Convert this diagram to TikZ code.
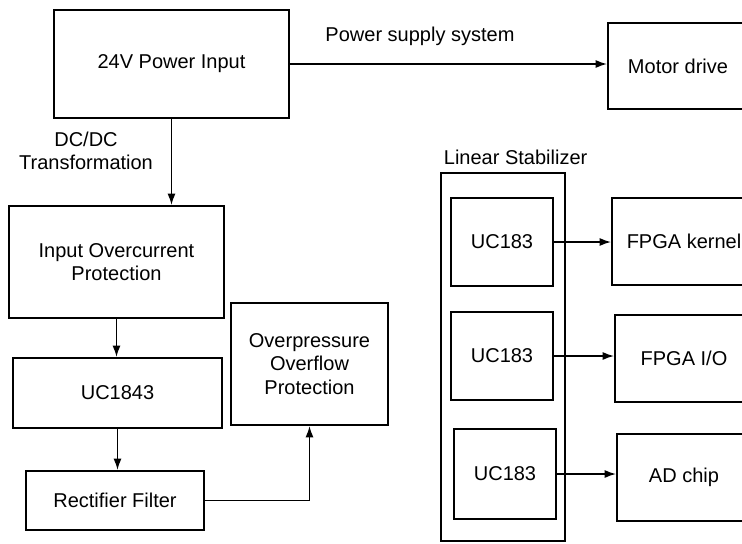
\documentclass[tikz,border=0pt]{standalone}
\usepackage{fontspec}
\setmainfont{Liberation Sans}
\usetikzlibrary{arrows.meta,positioning,calc}

\begin{document}
\begin{tikzpicture}[
  x=0.75pt, y=-0.75pt,
  block/.style={
    draw,
    line width=1.5pt,
    align=center,
    inner sep=0pt
  },
  flow/.style={-{Latex[length=8.5pt,width=6pt]}, line width=1.1pt},
  group/.style={draw, line width=1pt, inner sep=0pt},
  textlabel/.style={align=center, inner sep=1pt},
  font=\fontsize{15}{17.5}\selectfont
]
\useasboundingbox (0,0) rectangle (742,543);
\clip (0,0) rectangle (742,543);

% power input and motor branch
\node[block,minimum width=176.25pt,minimum height=81pt] (pwr) at (171.5,64) {24V Power Input};
\node[block,minimum width=105pt,minimum height=64.5pt] (motor) at (678,66) {Motor drive};
\draw[flow] (pwr.east) --
  node[textlabel,above=12pt,pos=0.41]{Power supply system}
  (pwr.east -| motor.west);

% dc/dc chain
\node[block,minimum width=161.25pt,minimum height=84pt] (ocp) at (116.5,262) {Input Overcurrent\\Protection};
\node[block,minimum width=156.75pt,minimum height=52.5pt] (pwm) at (117.5,393) {UC1843};
\node[block,minimum width=133.5pt,minimum height=44.25pt] (rect) at (115,500.5) {Rectifier Filter};
\node[block,minimum width=117.75pt,minimum height=91.5pt] (ovp) at (309.5,364) {Overpressure\\Overflow\\Protection};
\draw[flow] (pwr.south) -- (pwr.south |- ocp.north);
\node[textlabel] (dcdc) at (86,151) {DC/DC\\Transformation};
\draw[flow] (ocp.south) -- (ocp.south |- pwm.north);
\draw[flow] (pwm.south) -- (pwm.south |- rect.north);
\draw[flow] (rect.east) -| (ovp.south);

% linear stabilizer group
\node[group,minimum width=93pt,minimum height=276pt] (stab) at (503,357) {};
\node[textlabel,anchor=south west] (stablabel) at ($(stab.north west)+(2,-6)$) {Linear Stabilizer};
\node[block,minimum width=76.5pt,minimum height=66pt] (reg1) at (502,242) {UC183};
\node[block,minimum width=76.5pt,minimum height=66pt] (reg2) at (502,356) {UC183};
\node[block,minimum width=76.5pt,minimum height=67.5pt] (reg3) at (505,474) {UC183};
\node[block,minimum width=108pt,minimum height=65.25pt] (core) at (684,241.5) {FPGA kernel};
\node[block,minimum width=103.5pt,minimum height=65.25pt] (fpgaio) at (684,358.5) {FPGA I/O};
\node[block,minimum width=100.5pt,minimum height=65.25pt] (adc) at (684,477.5) {AD chip};
\draw[flow] (reg1.east) -- (reg1.east -| core.west);
\draw[flow] (reg2.east) -- (reg2.east -| fpgaio.west);
\draw[flow] (reg3.east) -- (reg3.east -| adc.west);
\end{tikzpicture}
\end{document}
